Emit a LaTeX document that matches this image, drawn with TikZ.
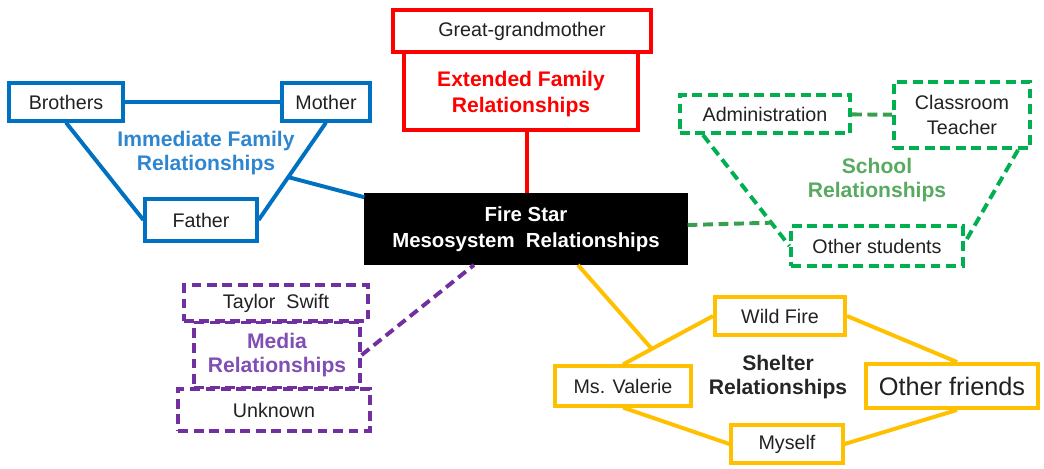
\documentclass[tikz,border=0pt]{standalone}
\usepackage{fontspec}
\setmainfont{Liberation Sans}
\usetikzlibrary{calc}

\definecolor{famblue}{RGB}{0,112,192}
\definecolor{famlabel}{RGB}{46,134,209}
\definecolor{extred}{RGB}{255,0,0}
\definecolor{schgreen}{RGB}{0,176,80}
\definecolor{schline}{RGB}{55,160,80}
\definecolor{schlabel}{RGB}{88,170,96}
\definecolor{medpurple}{RGB}{112,48,160}
\definecolor{medlabel}{RGB}{128,78,180}
\definecolor{shelyellow}{RGB}{255,192,0}

\begin{document}
\begin{tikzpicture}[x=0.025cm,y=-0.025cm,
    box/.style={draw,line width=2.8pt,inner sep=0pt,align=center,text=black!87,
      font=\fontsize{14}{17.5}\selectfont},
    dbox/.style={box,dash pattern=on 7pt off 4pt},
    lab/.style={align=center,font=\fontsize{15}{17.5}\selectfont\bfseries},
    link/.style={line width=2.8pt},
    dlink/.style={link,dash pattern=on 7pt off 4pt}]
				\useasboundingbox (0,0) rectangle (1044,468);
				
				% kozepso doboz
				\node[box,fill=black,text=white,minimum width=7.98cm,minimum height=1.7cm,
				  font=\fontsize{14.5}{18.5}\selectfont\bfseries] (fire) at (526,229)
				  {Fire Star\\Mesosystem~~Relationships};
				
				% kozvetlen csalad
				\node[box,draw=famblue,minimum width=2.83cm,minimum height=0.93cm] (brothers) at (66,102) {Brothers};
				\node[box,draw=famblue,minimum width=2.2cm,minimum height=0.93cm] (mother) at (326,102) {Mother};
				\node[box,draw=famblue,minimum width=2.78cm,minimum height=1.03cm] (father) at (201,220) {Father};
				\node[lab,text=famlabel] (immlab) at (206,153) {Immediate Family\\Relationships};
				\draw[link,famblue] (brothers) -- (mother);
				\draw[link,famblue] (brothers.south) -- (father.west);
				\draw[link,famblue] (mother.south) -- (father.east);
				\coordinate (famjoin) at ($(mother.south)!0.56!(father.east)$);
				\draw[link,famblue] (famjoin) -- ([yshift=-3pt]fire.north west);
				
				% kiterjesztett csalad
				\node[box,draw=extred,text=extred,minimum width=5.85cm,minimum height=1.95cm,
				  font=\fontsize{15}{19}\selectfont\bfseries] (extended) at (521,91)
				  {\\[-4pt]Extended Family\\Relationships};
				\node[box,draw=extred,fill=white,minimum width=6.43cm,minimum height=1.03cm] (ggm) at (522,31) {Great-grandmother};
				\draw[link,extred] ($(extended.south)+(6,0)$) -- ($(fire.north)+(1,0)$);
				
				% iskola
				\node[dbox,draw=schgreen,minimum width=4.25cm,minimum height=0.95cm] (admin) at (765,114) {Administration};
				\node[dbox,draw=schgreen,minimum width=3.4cm,minimum height=1.65cm] (teacher) at (962,115) {Classroom\\Teacher};
				\node[dbox,draw=schgreen,minimum width=4.28cm,minimum height=0.98cm] (others) at (877,246) {Other students};
				\node[lab,text=schlabel] (schlab) at (877,180) {School\\Relationships};
				\coordinate (admfoot) at ($(admin.south west)+(25,0)$);
				\coordinate (teafoot) at ($(teacher.south east)+(-14,0)$);
				\draw[dlink,schline] (admin) -- (teacher);
				\draw[dlink,schgreen] (admfoot) -- (others.west);
				\draw[dlink,schgreen] (teafoot) -- ($(others.east)+(0,-3)$);
				\coordinate (schjoin) at ($(admfoot)!0.79!(others.west)$);
				\draw[dlink,schline] ($(fire.east)+(0,-4)$) -- (schjoin);
				
				% media
				\node[dbox,draw=medpurple,text=medlabel,minimum width=4.13cm,minimum height=1.65cm,
				  font=\fontsize{15}{16.5}\selectfont\bfseries] (media) at (277,355) {Media\\Relationships};
				\node[dbox,draw=medpurple,fill=white,minimum width=4.6cm,minimum height=0.9cm] (taylor) at (276,303) {Taylor~~Swift};
				\node[dbox,draw=medpurple,fill=white,minimum width=4.78cm,minimum height=1.03cm] (unknown) at (274,410) {Unknown};
				\draw[dlink,medpurple] (media.east) -- ($(fire.south)+(-52,0)$);
				
				% menhely
				\node[box,draw=shelyellow,minimum width=3.25cm,minimum height=0.95cm] (wild) at (780,316) {Wild Fire};
				\node[box,draw=shelyellow,minimum width=3.4cm,minimum height=0.98cm] (valerie) at (623,386) {Ms. Valerie};
				\node[box,draw=shelyellow,minimum width=2.78cm,minimum height=0.95cm] (myself) at (787,444) {Myself};
				\node[box,draw=shelyellow,minimum width=4.28cm,minimum height=1.1cm,
				  font=\fontsize{18}{20}\selectfont] (friends) at (952,386) {Other friends};
				\node[lab,text=black!85] (shellab) at (778,377) {Shelter\\Relationships};
				\draw[link,shelyellow] (wild.west) -- (valerie.north);
				\draw[link,shelyellow] (wild.east) -- ($(friends.north)+(5,0)$);
				\draw[link,shelyellow] (valerie.south) -- (myself.west);
				\draw[link,shelyellow] (myself.east) -- ($(friends.south)+(5,0)$);
				\coordinate (sheljoin) at ($(wild.west)!0.68!(valerie.north)$);
				\draw[link,shelyellow] (sheljoin) -- ($(fire.south)+(52,0)$);
				
			\end{tikzpicture}
\end{document}
